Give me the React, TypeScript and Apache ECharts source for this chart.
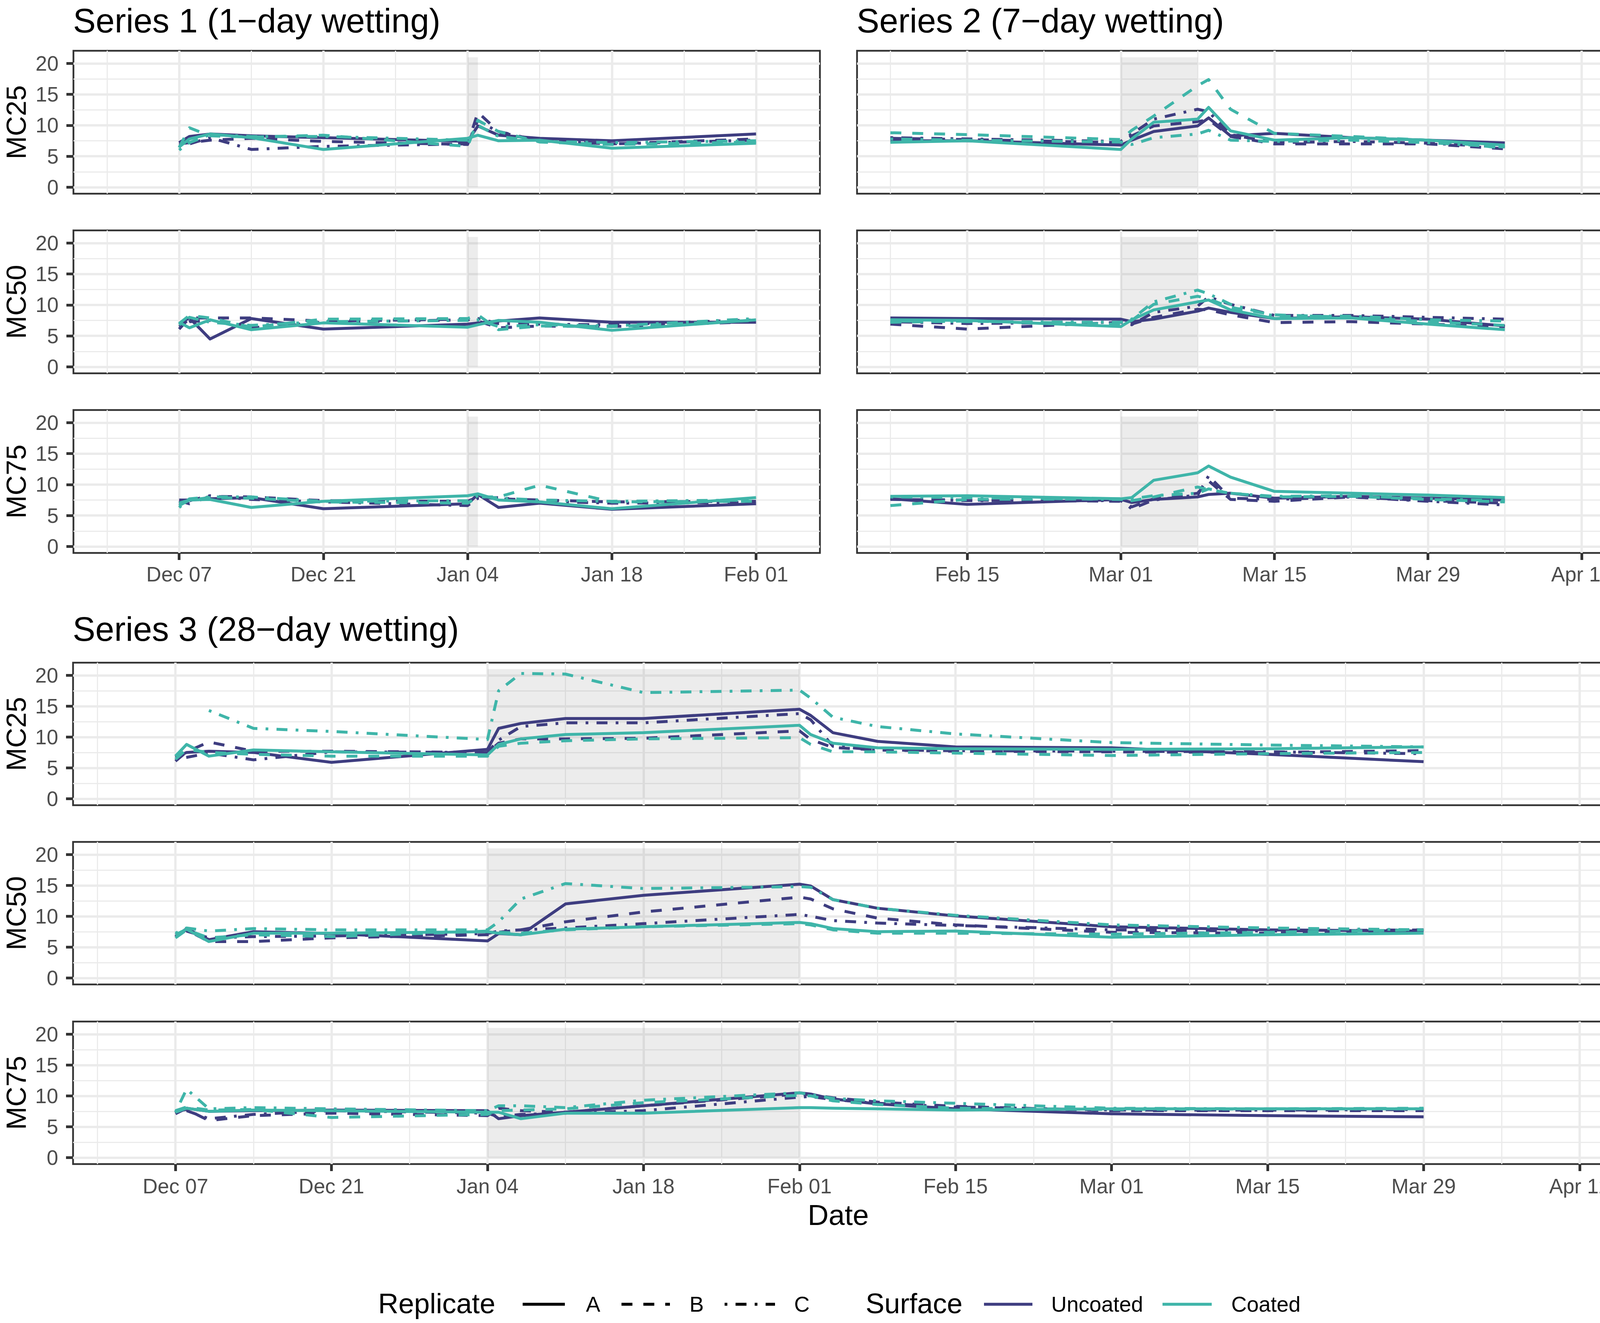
import { useEffect, useRef } from 'react';
import * as echarts from 'echarts';

// ---------- dates / ticks ----------
const ORIGIN = Date.UTC(2020, 11, 7);
function dayOf(s: string): number {
  const [y, m, d] = s.split('-').map(Number);
  return Math.round((Date.UTC(y, m - 1, d) - ORIGIN) / 86400000);
}

const xMajorDates = ['2020-12-07', '2020-12-21', '2021-01-04', '2021-01-18', '2021-02-01', '2021-02-15', '2021-03-01', '2021-03-15', '2021-03-29', '2021-04-12'];
const xMajorLabels = ['Dec 07', 'Dec 21', 'Jan 04', 'Jan 18', 'Feb 01', 'Feb 15', 'Mar 01', 'Mar 15', 'Mar 29', 'Apr 12'];
const xMinorDates = ['2020-11-30', '2020-12-14', '2020-12-28', '2021-01-11', '2021-01-25', '2021-02-08', '2021-02-22', '2021-03-08', '2021-03-22', '2021-04-05'];
const yMajorTicks = [0, 5, 10, 15, 20];
const yMinorTicks = [2.5, 7.5, 12.5, 17.5];

// ---------- Series 1 (1-day wetting) ----------
const s1Dates = ['2020-12-07', '2020-12-08', '2020-12-10', '2020-12-14', '2020-12-21', '2021-01-04', '2021-01-05', '2021-01-07', '2021-01-11', '2021-01-18', '2021-02-01'];
const s1Wetting = ['2021-01-04', '2021-01-05'];

const s1Mc25UncoatedA = [7.2, 8.2, 8.6, 8.3, 8.0, 7.4, 9.9, 8.4, 7.9, 7.5, 8.6];
const s1Mc25UncoatedB = [7.0, 7.2, 7.6, 7.9, 7.4, 6.9, 12.1, 9.0, 7.5, 7.0, 7.8];
const s1Mc25UncoatedC = [6.8, 7.0, 8.0, 6.1, 6.6, 7.0, 10.8, 8.9, 7.5, 7.0, 7.6];
const s1Mc25CoatedA = [6.5, 7.8, 8.6, 8.0, 6.1, 7.9, 8.4, 7.5, 7.6, 6.3, 7.1];
const s1Mc25CoatedB = [6.4, 9.6, 8.3, 8.1, 8.4, 6.6, 10.8, 9.0, 7.3, 6.9, 7.3];
const s1Mc25CoatedC = [6.0, 7.2, 8.5, 8.2, 8.2, 7.6, 10.0, 8.2, 7.4, 7.2, 7.5];

const s1Mc50UncoatedA = [7.0, 7.9, 4.5, 7.8, 6.1, 6.9, 7.1, 7.4, 7.9, 7.2, 7.2];
const s1Mc50UncoatedB = [6.1, 7.9, 7.9, 7.9, 7.4, 7.7, 7.4, 6.3, 6.6, 6.5, 7.3];
const s1Mc50UncoatedC = [6.5, 7.3, 7.5, 6.3, 7.2, 7.6, 7.8, 7.0, 6.9, 6.8, 7.6];
const s1Mc50CoatedA = [7.2, 6.3, 7.6, 6.0, 7.1, 6.4, 6.8, 7.5, 7.2, 5.9, 7.6];
const s1Mc50CoatedB = [7.0, 8.3, 7.9, 6.4, 7.7, 7.8, 8.4, 6.0, 6.6, 6.5, 7.5];
const s1Mc50CoatedC = [6.8, 8.0, 7.2, 6.7, 7.3, 7.5, 7.6, 6.5, 6.8, 6.6, 7.8];

const s1Mc75UncoatedA = [7.5, 7.5, 7.7, 7.9, 6.1, 6.9, 8.4, 6.3, 7.0, 6.0, 6.9];
const s1Mc75UncoatedB = [7.4, 6.9, 8.1, 8.0, 7.4, 7.3, 8.0, 7.7, 7.5, 7.2, 7.3];
const s1Mc75UncoatedC = [6.9, 7.4, 8.2, 7.6, 7.2, 6.6, 7.8, 7.9, 7.3, 7.0, 7.1];
const s1Mc75CoatedA = [7.0, 7.5, 7.6, 6.3, 7.3, 8.2, 8.5, 7.5, 7.2, 6.1, 7.9];
const s1Mc75CoatedB = [6.6, 7.5, 7.9, 7.8, 7.2, 7.0, 8.0, 8.0, 9.9, 7.2, 7.3];
const s1Mc75CoatedC = [6.3, 7.7, 8.0, 8.0, 7.3, 7.4, 8.2, 7.8, 7.5, 7.3, 7.5];

// ---------- Series 2 (7-day wetting) ----------
const s2Dates = ['2021-02-08', '2021-02-15', '2021-03-01', '2021-03-02', '2021-03-04', '2021-03-08', '2021-03-09', '2021-03-11', '2021-03-15', '2021-03-22', '2021-03-29', '2021-04-05'];
const s2Wetting = ['2021-03-01', '2021-03-08'];

const s2Mc25UncoatedA = [7.5, 7.5, 6.8, 7.6, 9.0, 9.9, 11.2, 8.3, 8.7, 8.0, 7.6, 7.15];
const s2Mc25UncoatedB = [7.9, 7.7, 7.2, 8.3, 9.9, 10.6, 10.9, 8.2, 7.0, 7.0, 7.0, 6.2];
const s2Mc25UncoatedC = [8.0, 7.8, 7.4, 8.6, 11.0, 12.6, 12.2, 8.5, 7.2, 7.4, 7.1, 6.5];
const s2Mc25CoatedA = [7.25, 7.5, 6.1, 7.8, 10.5, 11.0, 12.9, 9.1, 7.6, 8.0, 7.6, 6.8];
const s2Mc25CoatedB = [8.8, 8.5, 7.7, 9.2, 11.5, 16.4, 17.4, 12.6, 8.7, 8.2, 7.6, 6.3];
const s2Mc25CoatedC = [7.8, 7.6, 7.3, 6.9, 8.0, 8.6, 9.2, 7.6, 7.4, 7.6, 7.2, 6.5];

const s2Mc50UncoatedA = [7.9, 7.8, 7.7, 7.3, 7.7, 9.0, 9.5, 8.8, 7.8, 8.1, 7.7, 6.6];
const s2Mc50UncoatedB = [6.9, 6.1, 7.2, 6.9, 8.0, 9.3, 9.2, 8.4, 7.15, 7.3, 6.9, 6.5];
const s2Mc50UncoatedC = [7.3, 7.0, 7.2, 6.8, 8.8, 9.8, 11.3, 10.1, 8.3, 8.3, 8.0, 7.7];
const s2Mc50CoatedA = [7.6, 7.5, 6.5, 7.6, 9.2, 10.5, 10.8, 9.2, 7.8, 7.9, 6.9, 6.0];
const s2Mc50CoatedB = [7.2, 7.4, 6.9, 7.5, 10.1, 11.4, 11.0, 9.6, 8.4, 8.0, 7.3, 6.7];
const s2Mc50CoatedC = [7.4, 7.3, 7.2, 7.7, 10.5, 12.4, 11.8, 10.1, 8.2, 8.2, 7.6, 7.4];

const s2Mc75UncoatedA = [7.7, 6.8, 7.6, 7.1, 7.6, 8.0, 8.4, 8.6, 7.8, 8.1, 7.8, 7.5];
const s2Mc75UncoatedB = [7.6, 7.5, 7.3, 6.4, 7.7, 8.6, 10.6, 7.6, 7.3, 8.0, 7.4, 7.0];
const s2Mc75UncoatedC = [7.8, 7.4, 7.4, 6.1, 7.5, 8.3, 11.4, 7.8, 7.6, 8.0, 7.3, 6.7];
const s2Mc75CoatedA = [8.1, 8.2, 7.7, 7.9, 10.7, 11.9, 13.0, 11.2, 8.9, 8.6, 8.3, 7.9];
const s2Mc75CoatedB = [6.6, 7.6, 7.7, 7.4, 8.0, 9.6, 9.2, 8.6, 8.0, 8.1, 7.6, 7.2];
const s2Mc75CoatedC = [8.0, 7.9, 7.6, 7.7, 8.2, 8.6, 9.3, 8.6, 8.1, 8.2, 7.7, 7.4];

// ---------- Series 3 (28-day wetting) ----------
const s3Dates = ['2020-12-07', '2020-12-08', '2020-12-10', '2020-12-14', '2020-12-21', '2021-01-04', '2021-01-05', '2021-01-07', '2021-01-11', '2021-01-18', '2021-02-01', '2021-02-02', '2021-02-04', '2021-02-08', '2021-02-15', '2021-03-01', '2021-03-15', '2021-03-29'];
const s3Wetting = ['2021-01-04', '2021-02-01'];

const s3Mc25UncoatedA = [6.7, 7.5, 7.7, 7.5, 5.9, 8.0, 11.4, 12.2, 13.0, 13.0, 14.5, 13.5, 10.7, 9.3, 8.4, 8.25, 7.2, 6.0];
const s3Mc25UncoatedB = [6.1, 7.6, 9.2, 7.7, 7.7, 7.5, 9.0, 9.7, 9.7, 9.8, 11.0, 9.6, 8.3, 7.9, 7.7, 7.6, 7.5, 7.8];
const s3Mc25UncoatedC = [6.4, 6.7, 7.4, 6.3, 7.6, 7.5, 9.5, 11.7, 12.3, 12.3, 13.8, 12.8, 8.5, 7.9, 7.8, 7.7, 7.6, 7.3];
const s3Mc25CoatedA = [6.9, 8.8, 6.9, 7.9, 7.6, 7.1, 8.8, 9.7, 10.4, 10.7, 11.9, 10.4, 9.0, 8.25, 8.1, 8.0, 8.1, 8.4];
const s3Mc25CoatedB = [6.4, 8.0, 7.5, 7.2, 6.9, 6.9, 8.5, 9.0, 9.4, 9.7, 9.9, 8.8, 7.6, 7.6, 7.4, 7.0, 7.3, 7.5];
const s3Mc25CoatedC = [null, null, 14.3, 11.4, 10.9, 9.6, 17.5, 20.3, 20.2, 17.2, 17.6, 16.3, 13.2, 11.7, 10.5, 9.1, 8.7, 8.4];

const s3Mc50UncoatedA = [6.7, 8.0, 6.2, 7.5, 7.2, 6.0, 7.2, 7.0, 12.0, 13.4, 15.2, 14.9, 12.7, 11.3, 10.05, 8.3, 7.8, 7.6];
const s3Mc50UncoatedB = [7.0, 7.8, 5.9, 5.9, 6.5, 7.0, 7.4, 7.8, 9.1, 10.7, 13.1, 12.8, 11.2, 9.7, 8.6, 7.4, 7.25, 7.8];
const s3Mc50UncoatedC = [7.0, 7.6, 6.5, 6.7, 6.8, 7.2, 7.6, 7.8, 8.1, 8.8, 10.3, 10.0, 9.3, 8.9, 8.5, 7.8, 7.6, 7.8];
const s3Mc50CoatedA = [7.0, 7.9, 5.9, 7.25, 7.25, 7.5, 7.25, 7.0, 7.9, 8.3, 9.0, 8.8, 8.0, 7.5, 7.6, 6.6, 7.0, 7.25];
const s3Mc50CoatedB = [6.5, 7.8, 6.5, 7.0, 6.7, 7.6, 7.4, 7.25, 7.8, 8.3, 8.8, 8.6, 7.8, 7.25, 7.25, 7.1, 7.4, 7.8];
const s3Mc50CoatedC = [7.25, 8.1, 7.6, 8.0, 7.8, 7.8, 9.1, 12.8, 15.3, 14.5, 14.8, 14.7, 12.7, 11.3, 10.15, 8.6, 8.1, 7.8];

const s3Mc75UncoatedA = [7.1, 8.0, 7.5, 7.6, 7.7, 7.6, 6.3, 6.8, 7.35, 8.4, 10.5, 10.3, 9.5, 8.7, 7.9, 7.1, 6.8, 6.6];
const s3Mc75UncoatedB = [7.5, 7.8, 6.0, 6.8, 7.2, 6.8, 8.0, 7.6, 7.35, 8.4, 10.3, 10.2, 9.7, 9.0, 8.3, 7.6, 7.6, 7.6];
const s3Mc75UncoatedC = [7.3, 7.6, 6.3, 7.0, 7.6, 7.2, 6.6, 7.0, 7.2, 7.6, 9.8, 9.9, 9.4, 8.8, 8.2, 7.7, 7.7, 7.8];
const s3Mc75CoatedA = [7.35, 8.0, 7.5, 7.7, 7.6, 7.35, 7.35, 6.3, 7.2, 7.2, 8.1, 8.1, 8.0, 7.9, 7.7, 7.9, 7.9, 7.9];
const s3Mc75CoatedB = [7.6, 8.2, 7.7, 7.8, 6.5, 7.0, 7.6, 7.7, 7.9, 8.9, 10.1, 10.0, 9.2, 8.6, 8.0, 7.8, 7.9, 8.0];
const s3Mc75CoatedC = [7.35, 11.1, 7.9, 8.1, 7.9, 7.6, 8.4, 8.4, 8.1, 9.3, 10.5, 10.2, 9.6, 9.2, 8.8, 8.0, 7.9, 7.9];

const shadeTop = 21;

// ---------- styling ----------
const FONT = "'Liberation Sans', Arial, Helvetica, sans-serif";
const UNCOATED = '#3E3D80';
const COATED = '#3FB5A9';
const LW = 7.5;
const DASHES: Record<string, any> = { A: 'solid', B: [28, 28], C: [7, 21, 28, 21] };
const GRID_COL = '#EBEBEB';
const INK = '#333333';
const LABEL_COL = '#4D4D4D';

type Panel = {
  mc: string;
  dates: string[];
  wet: string[];
  lines: (number | null)[][]; // UA, UB, UC, CA, CB, CC
  left: number; top: number; width: number; height: number;
  xMin: number; xMax: number;
  yAxisShown: boolean; xAxisShown: boolean; xLabelMargin: number;
};

const S12_TOPS = [130, 590, 1050];
const S3_TOPS = [1697, 2156, 2616];

const PANELS: Panel[] = [
  { mc: 'MC25', dates: s1Dates, wet: s1Wetting, lines: [s1Mc25UncoatedA, s1Mc25UncoatedB, s1Mc25UncoatedC, s1Mc25CoatedA, s1Mc25CoatedB, s1Mc25CoatedC], left: 188, top: S12_TOPS[0], width: 1911, height: 366, xMin: -10.26, xMax: 62.2, yAxisShown: true, xAxisShown: false, xLabelMargin: 28 },
  { mc: 'MC50', dates: s1Dates, wet: s1Wetting, lines: [s1Mc50UncoatedA, s1Mc50UncoatedB, s1Mc50UncoatedC, s1Mc50CoatedA, s1Mc50CoatedB, s1Mc50CoatedC], left: 188, top: S12_TOPS[1], width: 1911, height: 366, xMin: -10.26, xMax: 62.2, yAxisShown: true, xAxisShown: false, xLabelMargin: 28 },
  { mc: 'MC75', dates: s1Dates, wet: s1Wetting, lines: [s1Mc75UncoatedA, s1Mc75UncoatedB, s1Mc75UncoatedC, s1Mc75CoatedA, s1Mc75CoatedB, s1Mc75CoatedC], left: 188, top: S12_TOPS[2], width: 1911, height: 366, xMin: -10.26, xMax: 62.2, yAxisShown: true, xAxisShown: true, xLabelMargin: 28 },
  { mc: 'MC25', dates: s2Dates, wet: s2Wetting, lines: [s2Mc25UncoatedA, s2Mc25UncoatedB, s2Mc25UncoatedC, s2Mc25CoatedA, s2Mc25CoatedB, s2Mc25CoatedC], left: 2194, top: S12_TOPS[0], width: 1912, height: 366, xMin: 59.96, xMax: 128.03, yAxisShown: false, xAxisShown: false, xLabelMargin: 28 },
  { mc: 'MC50', dates: s2Dates, wet: s2Wetting, lines: [s2Mc50UncoatedA, s2Mc50UncoatedB, s2Mc50UncoatedC, s2Mc50CoatedA, s2Mc50CoatedB, s2Mc50CoatedC], left: 2194, top: S12_TOPS[1], width: 1912, height: 366, xMin: 59.96, xMax: 128.03, yAxisShown: false, xAxisShown: false, xLabelMargin: 28 },
  { mc: 'MC75', dates: s2Dates, wet: s2Wetting, lines: [s2Mc75UncoatedA, s2Mc75UncoatedB, s2Mc75UncoatedC, s2Mc75CoatedA, s2Mc75CoatedB, s2Mc75CoatedC], left: 2194, top: S12_TOPS[2], width: 1912, height: 366, xMin: 59.96, xMax: 128.03, yAxisShown: false, xAxisShown: true, xLabelMargin: 28 },
  { mc: 'MC25', dates: s3Dates, wet: s3Wetting, lines: [s3Mc25UncoatedA, s3Mc25UncoatedB, s3Mc25UncoatedC, s3Mc25CoatedA, s3Mc25CoatedB, s3Mc25CoatedC], left: 187, top: S3_TOPS[0], width: 3919, height: 365, xMin: -9.19, xMax: 128.18, yAxisShown: true, xAxisShown: false, xLabelMargin: 30 },
  { mc: 'MC50', dates: s3Dates, wet: s3Wetting, lines: [s3Mc50UncoatedA, s3Mc50UncoatedB, s3Mc50UncoatedC, s3Mc50CoatedA, s3Mc50CoatedB, s3Mc50CoatedC], left: 187, top: S3_TOPS[1], width: 3919, height: 365, xMin: -9.19, xMax: 128.18, yAxisShown: true, xAxisShown: false, xLabelMargin: 30 },
  { mc: 'MC75', dates: s3Dates, wet: s3Wetting, lines: [s3Mc75UncoatedA, s3Mc75UncoatedB, s3Mc75UncoatedC, s3Mc75CoatedA, s3Mc75CoatedB, s3Mc75CoatedC], left: 187, top: S3_TOPS[2], width: 3919, height: 365, xMin: -9.19, xMax: 128.18, yAxisShown: true, xAxisShown: true, xLabelMargin: 30 },
];

const LINE_KEYS = [
  { surface: 'Uncoated', rep: 'A' }, { surface: 'Uncoated', rep: 'B' }, { surface: 'Uncoated', rep: 'C' },
  { surface: 'Coated', rep: 'A' }, { surface: 'Coated', rep: 'B' }, { surface: 'Coated', rep: 'C' },
];

function textEl(text: string, x: number, y: number, fontSize: number, opts: any = {}) {
  const align = opts.align || 'left';
  return {
    type: 'text', x, y, rotation: opts.rotation || 0, silent: true, z: 100,
    style: {
      text, fontSize, fontFamily: FONT, fill: opts.fill || '#000000',
      align, verticalAlign: 'middle', textAlign: align, textVerticalAlign: 'middle',
    },
  };
}
function lineEl(x1: number, x2: number, y: number, stroke: string, dash: any) {
  return {
    type: 'line', silent: true, z: 100,
    shape: { x1, y1: y, x2, y2: y },
    style: { stroke, lineWidth: LW, lineDash: dash === 'solid' ? null : dash, lineCap: 'butt' },
  };
}

function buildOption() {
  const xMajorDays = xMajorDates.map(dayOf);
  const xMinorDays = xMinorDates.map(dayOf);
  const fmtX = (v: number) => {
    const i = xMajorDays.findIndex((d) => Math.abs(d - v) < 0.01);
    return i >= 0 ? xMajorLabels[i] : '';
  };
  const grid: any[] = [];
  const xAxis: any[] = [];
  const yAxis: any[] = [];
  const series: any[] = [];

  PANELS.forEach((p, i) => {
    grid.push({
      left: p.left, top: p.top, width: p.width, height: p.height,
      show: true, borderColor: INK, borderWidth: 4.5, backgroundColor: 'transparent',
      containLabel: false, outerBoundsMode: 'none',
    });
    const xb = { type: 'value', gridIndex: i, min: p.xMin, max: p.xMax, scale: true };
    xAxis.push({
      ...xb, position: 'bottom',
      axisLine: { show: false, onZero: false },
      axisTick: { show: p.xAxisShown, customValues: xMajorDays, length: 18, lineStyle: { color: INK, width: 7 } },
      axisLabel: { show: p.xAxisShown, customValues: xMajorDays, formatter: fmtX, margin: p.xLabelMargin, color: LABEL_COL, fontSize: 53, fontFamily: FONT },
      splitLine: { show: true, lineStyle: { color: GRID_COL, width: 6 } },
    });
    xAxis.push({
      ...xb, position: 'top',
      axisLine: { show: false, onZero: false },
      axisTick: { show: false, customValues: xMinorDays },
      axisLabel: { show: false, customValues: xMinorDays },
      splitLine: { show: true, lineStyle: { color: GRID_COL, width: 3 } },
    });
    const yb = { type: 'value', gridIndex: i, min: -1.05, max: 22.05, scale: true };
    yAxis.push({
      ...yb, position: 'left',
      axisLine: { show: false, onZero: false },
      axisTick: { show: p.yAxisShown, customValues: yMajorTicks, length: 18, lineStyle: { color: INK, width: 7 } },
      axisLabel: { show: p.yAxisShown, customValues: yMajorTicks, margin: 38, color: LABEL_COL, fontSize: 53, fontFamily: FONT },
      splitLine: { show: true, lineStyle: { color: GRID_COL, width: 6 } },
    });
    yAxis.push({
      ...yb, position: 'right',
      axisLine: { show: false, onZero: false },
      axisTick: { show: false, customValues: yMinorTicks },
      axisLabel: { show: false, customValues: yMinorTicks },
      splitLine: { show: true, lineStyle: { color: GRID_COL, width: 3 } },
    });
    const xi = i * 2;
    const yi = i * 2;
    // shaded wetting period
    series.push({
      type: 'line', name: `shade-${i}`, xAxisIndex: xi, yAxisIndex: yi, data: [], silent: true, z: 1,
      markArea: {
        silent: true, label: { show: false },
        itemStyle: { color: 'rgba(127,127,127,0.15)', borderWidth: 0 },
        data: [[{ coord: [dayOf(p.wet[0]), 0] }, { coord: [dayOf(p.wet[1]), shadeTop] }]],
      },
    });
    p.lines.forEach((vals, k) => {
      const key = LINE_KEYS[k];
      const color = key.surface === 'Uncoated' ? UNCOATED : COATED;
      const data: any[] = [];
      p.dates.forEach((d, j) => {
        if (vals[j] !== null && vals[j] !== undefined) data.push([dayOf(d), vals[j]]);
      });
      series.push({
        type: 'line', name: `${p.mc}-${key.surface}-${key.rep}`, xAxisIndex: xi, yAxisIndex: yi,
        data, showSymbol: false, symbol: 'none', silent: true, z: 2, connectNulls: false,
        lineStyle: { color, width: LW, type: DASHES[key.rep], cap: 'butt', join: 'round' },
        itemStyle: { color },
        emphasis: { disabled: true },
      });
    });
  });

  const elements: any[] = [
    textEl('Series 1 (1\u2212day wetting)', 187, 52, 87),
    textEl('Series 2 (7\u2212day wetting)', 2193, 52, 87),
    textEl('Series 3 (28\u2212day wetting)', 186, 1610, 87),
    textEl('Date', 2146, 3111, 74, { align: 'center' }),
  ];
  PANELS.forEach((p) => {
    if (p.yAxisShown) elements.push(textEl(p.mc, 41, p.top + p.height / 2, 71, { align: 'center', rotation: Math.PI / 2 }));
  });
  const LY = 3340;
  elements.push(
    textEl('Replicate', 968, LY - 2, 72),
    lineEl(1338, 1446, LY, '#000000', DASHES.A), textEl('A', 1500, LY, 55),
    lineEl(1591, 1715, LY, '#000000', DASHES.B), textEl('B', 1765, LY, 55),
    lineEl(1855, 1984, LY, '#000000', DASHES.C), textEl('C', 2033, LY, 55),
    textEl('Surface', 2216, LY - 2, 72),
    lineEl(2519, 2643, LY, UNCOATED, 'solid'), textEl('Uncoated', 2691, LY, 55),
    lineEl(2976, 3102, LY, COATED, 'solid'), textEl('Coated', 3152, LY, 55),
  );

  return {
    animation: false,
    backgroundColor: '#ffffff',
    grid, xAxis, yAxis, series,
    graphic: { elements },
  };
}

export default function App() {
  const ref = useRef<HTMLDivElement>(null);
  useEffect(() => {
    document.body.style.margin = '0';
    document.body.style.overflow = 'hidden';
    document.documentElement.style.overflow = 'hidden';
    if (!ref.current) return;
    const chart = echarts.init(ref.current, undefined, { renderer: 'svg' });
    chart.setOption(buildOption() as any);
    return () => chart.dispose();
  }, []);
  return (
    <div
      ref={ref}
      style={{ position: 'fixed', left: 0, top: 0, width: 4134, height: 3388, background: '#ffffff' }}
    />
  );
}
